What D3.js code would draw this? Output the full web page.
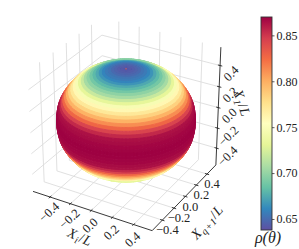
<!DOCTYPE html>
<html>
<head>
<meta charset="utf-8">
<script src="https://cdn.jsdelivr.net/npm/d3@7"></script>
<style>
html, body { margin:0; padding:0; background:#fff; }
text { font-family:"Liberation Serif", serif; fill:#222; }
</style>
</head>
<body>
<div id="chart"></div>
<script>
// density per polar band, north pole to south pole
var rhoBands = [
	0.640,0.642,0.644,0.646,0.649,0.653,0.656,0.660,0.666,0.674,
	0.681,0.689,0.698,0.706,0.719,0.732,0.747,0.760,0.771,0.784,
	0.798,0.812,0.827,0.844,0.855,0.864,0.866,0.868,0.869,0.870,
	0.870,0.869,0.868,0.866,0.864,0.855,0.844,0.827,0.812,0.798,
	0.784,0.771,0.760,0.747,0.732,0.719,0.706,0.698,0.689,0.681,
	0.674,0.666,0.660,0.656,0.653,0.649,0.646,0.644,0.642,0.640
];
var axisTicks = [-0.4,-0.2,0,0.2,0.4];
var cbarTicks = [0.65,0.70,0.75,0.80,0.85];
var spectralR = ["#5e4fa2","#3288bd","#66c2a5","#abdda4","#e6f598","#ffffbf","#fee08b","#fdae61","#f46d43","#d53e4f","#9e0142"];
var rhoDomain = [0.638,0.870];
// surface radius against rho, read from the silhouette
var radiusRho = [0.638,0.70,0.78,0.870];
var radiusVal = [0.477,0.516,0.549,0.575];
var lim = 0.57;

var width = 299, height = 249;
var svg = d3.select("#chart").append("svg")
	.attr("width", width).attr("height", height)
	.style("display","block");

var color = d3.scaleLinear()
	.domain(spectralR.map(function(c,i){ return rhoDomain[0] + i*(rhoDomain[1]-rhoDomain[0])/10; }))
	.range(spectralR);
var radius = d3.scaleLinear().domain(radiusRho).range(radiusVal);

/** 3d view, same camera as matplotlib: elev 30, azim -60, dist 10 **/
var elev = 30*Math.PI/180, azim = -60*Math.PI/180, dist = 10, side = 1.1;
var box = d3.scaleLinear().domain([-lim,lim]).range([-side/2,side/2]);
var pxX = d3.scaleLinear().domain([-1,1]).range([126-125,126+125]);
var pxY = d3.scaleLinear().domain([-1,1]).range([120+125,120-125]);

var view = [Math.cos(elev)*Math.cos(azim), Math.cos(elev)*Math.sin(azim), Math.sin(elev)];
var right = [-Math.sin(azim), Math.cos(azim), 0];
var up = [-Math.sin(elev)*Math.cos(azim), -Math.sin(elev)*Math.sin(azim), Math.cos(elev)];
var dot = function(a,b){ return a[0]*b[0]+a[1]*b[1]+a[2]*b[2]; };

var project = function(x,y,z){
	var p = [box(x),box(y),box(z)];
	var k = dist/(dist-dot(p,view));
	return {x:pxX(dot(p,right)*k), y:pxY(dot(p,up)*k), depth:dot(p,view)};
};
var line3 = function(a,b){
	var p = project(a[0],a[1],a[2]), q = project(b[0],b[1],b[2]);
	return "M"+p.x+","+p.y+"L"+q.x+","+q.y;
};

/** grid **/
var gridLines = [];
axisTicks.forEach(function(t){
	gridLines.push([[t,-lim,-lim],[t,lim,-lim]]);
	gridLines.push([[-lim,t,-lim],[lim,t,-lim]]);
	gridLines.push([[-lim,t,-lim],[-lim,t,lim]]);
	gridLines.push([[-lim,-lim,t],[-lim,lim,t]]);
	gridLines.push([[t,lim,-lim],[t,lim,lim]]);
	gridLines.push([[-lim,lim,t],[lim,lim,t]]);
});
svg.append("g").selectAll("path").data(gridLines).enter().append("path")
	.attr("d", function(d){ return line3(d[0],d[1]); })
	.attr("fill","none").attr("stroke","#dcdcdc").attr("stroke-width",0.9);

/** axis lines and ticks **/
var axisLines = [
	[[-lim,-lim,-lim],[lim,-lim,-lim]],
	[[lim,-lim,-lim],[lim,lim,-lim]],
	[[lim,lim,-lim],[lim,lim,lim]]
];
var tl = 0.02;
axisTicks.forEach(function(t){
	axisLines.push([[t,-lim-tl,-lim],[t,-lim+tl,-lim]]);
	axisLines.push([[lim+tl,t,-lim],[lim-tl,t,-lim]]);
	axisLines.push([[lim+tl,lim,t],[lim-tl,lim,t]]);
});
svg.append("g").selectAll("path").data(axisLines).enter().append("path")
	.attr("d", function(d){ return line3(d[0],d[1]); })
	.attr("fill","none").attr("stroke","#222").attr("stroke-width",0.9);

/** surface: one path per band, only the quads facing the camera **/
var nPhi = 120;
var nTheta = rhoBands.length;
// radius on the ring between band i-1 and band i, so the bands join up
var ringRadius = function(i){
	var a = rhoBands[Math.max(i-1,0)], b = rhoBands[Math.min(i,nTheta-1)];
	return radius((a+b)/2);
};
var spherePoint = function(i,j){
	var r = ringRadius(i), th = i*Math.PI/nTheta, ph = j*2*Math.PI/nPhi;
	return project(r*Math.sin(th)*Math.cos(ph), r*Math.sin(th)*Math.sin(ph), r*Math.cos(th));
};
var bands = rhoBands.map(function(rho,i){
	var d = "";
	d3.range(nPhi).forEach(function(j){
		var pts = [[i,j],[i+1,j],[i+1,j+1],[i,j+1]].map(function(c){ return spherePoint(c[0],c[1]); });
		var poly = pts.map(function(p){ return [p.x,p.y]; });
		if(d3.polygonArea(poly) < 0) return;
		d += "M" + poly.join("L") + "Z";
	});
	return {rho:rho, d:d};
});
svg.append("g").selectAll("path").data(bands).enter().append("path")
	.attr("d", function(d){ return d.d; })
	.attr("fill", function(d){ return color(d.rho); })
	.attr("stroke", function(d){ return color(d.rho); })
	.attr("stroke-width",0.9);

// small off-colour speck at the pole
var pole = project(0,0,radius(rhoBands[0]));
svg.append("circle").attr("cx",pole.x).attr("cy",pole.y).attr("r",0.7).attr("fill",color(0.825));

/** tick labels **/
var fmt = d3.format(".1f");
var tickLabels = function(cls,pos,dx,dy,rot){
	svg.append("g").selectAll("text."+cls).data(axisTicks).enter().append("text")
		.attr("class",cls)
		.attr("transform", function(d){
			var p = pos(d);
			return "translate("+(p.x+dx)+","+(p.y+dy)+") rotate("+rot+")";
		})
		.attr("text-anchor","middle").attr("dy","0.33em")
		.attr("font-size","12.5px")
		.text(function(d){ return fmt(d); });
};
tickLabels("xt", function(t){ return project(t,-lim,-lim); }, -1, 15, -42);
tickLabels("yt", function(t){ return project(lim,t,-lim); }, 5, 10, 0);
tickLabels("zt", function(t){ return project(lim,lim,t); }, 11, 8, -45);

/** axis titles **/
var axisTitle = function(x,y,rot,sub){
	var t = svg.append("text")
		.attr("transform","translate("+x+","+y+") rotate("+rot+")")
		.attr("text-anchor","middle").attr("dy","0.33em")
		.attr("font-size","14px").attr("letter-spacing","0.6px");
	t.append("tspan").attr("font-style","italic").text("X");
	t.append("tspan").attr("font-style","italic").attr("font-size","10px").attr("dy","3").text(sub);
	t.append("tspan").attr("dy","-3").text("/");
	t.append("tspan").attr("font-style","italic").text("L");
};
axisTitle(80,237,24,"i");
axisTitle(207,222,-48,"q+1");
axisTitle(242,103,72,"1");

/** colorbar **/
var cbar = {x:261, w:11, top:17, bottom:230};
var cbarY = d3.scaleLinear().domain(rhoDomain).range([cbar.bottom,cbar.top]);
var grad = svg.append("defs").append("linearGradient")
	.attr("id","cbarGrad").attr("x1",0).attr("x2",0).attr("y1",1).attr("y2",0);
grad.selectAll("stop").data(spectralR).enter().append("stop")
	.attr("offset",function(d,i){ return i/10; })
	.attr("stop-color",function(d){ return d; });
svg.append("rect")
	.attr("x",cbar.x).attr("y",cbar.top)
	.attr("width",cbar.w).attr("height",cbar.bottom-cbar.top)
	.attr("fill","url(#cbarGrad)")
	.attr("stroke","#333").attr("stroke-width",0.9);
var cbarAxis = svg.append("g")
	.attr("transform","translate("+(cbar.x+cbar.w)+",0)")
	.call(d3.axisRight(cbarY).tickValues(cbarTicks).tickSize(2.5).tickPadding(2).tickFormat(d3.format(".2f")));
cbarAxis.select(".domain").remove();
cbarAxis.selectAll("text").attr("font-size","12px").attr("font-family",null);
cbarAxis.selectAll("line").attr("stroke","#333").attr("stroke-width",0.8);

svg.append("text")
	.attr("x",268).attr("y",243)
	.attr("text-anchor","middle")
	.attr("font-size","16px").attr("font-style","italic")
	.text("ρ(θ)");
</script>
</body>
</html>
